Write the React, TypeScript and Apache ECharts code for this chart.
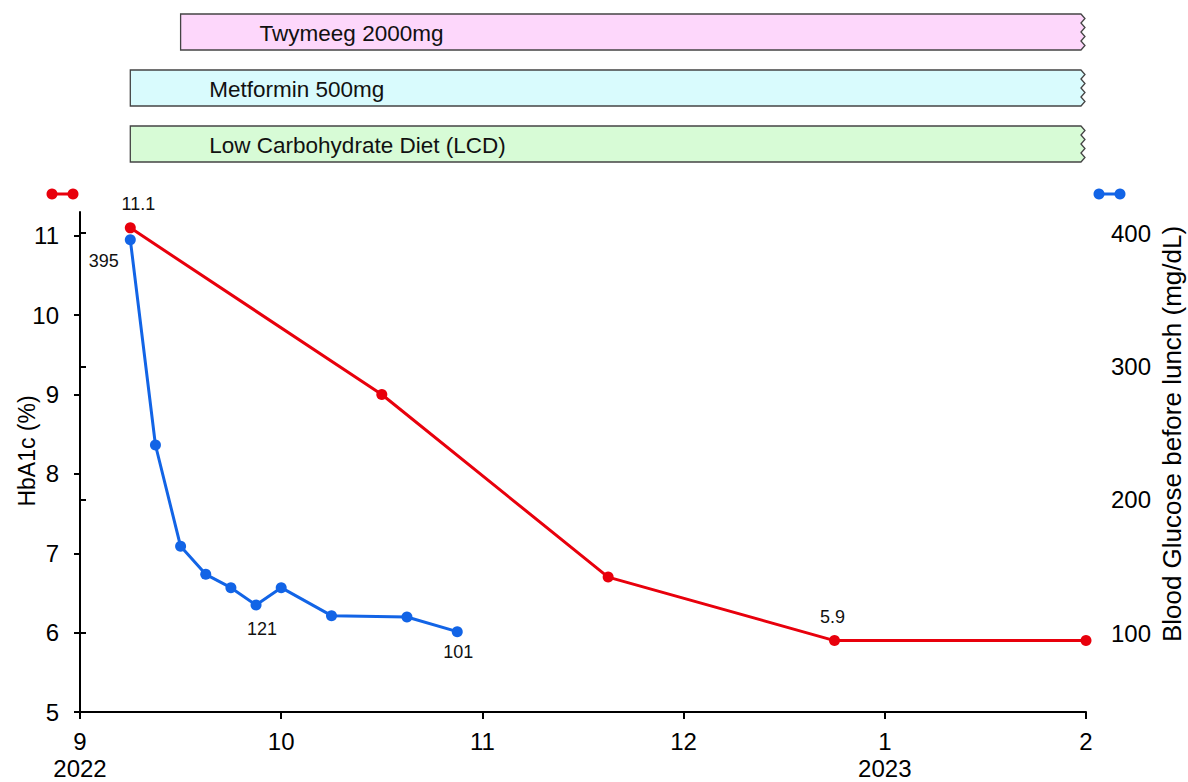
import React, { useEffect, useRef } from "react";
import * as echarts from "echarts";

// ---- data ----
const monthLabels = ["9", "10", "11", "12", "1", "2"];
const yearLabels = ["2022", "", "", "", "2023", ""];
const hba1cTicks = [5, 6, 7, 8, 9, 10, 11];

// x = months since Sept 1, 2022
const hba1cX = [0.25, 1.5, 2.625, 3.75, 5];
const hba1cY = [11.1, 9.0, 6.7, 5.9, 5.9];
const hba1cLabeled = [0, 3];

const glucoseX = [0.25, 0.375, 0.5, 0.625, 0.75, 0.875, 1.0, 1.25, 1.625, 1.875];
const glucoseY = [395, 241, 165, 144, 134, 121, 134, 113, 112, 101];
const glucoseLabeled = [0, 5, 9];

const treatmentNames = ["Twymeeg 2000mg", "Metformin 500mg", "Low Carbohydrate Diet (LCD)"];
const treatmentStart = [0.5, 0.25, 0.25];
const treatmentEnd = [4.975, 4.975, 4.975];
const treatmentColors = ["#fdd7fb", "#d9fbfd", "#d7fbd6"];

const FONT = '"Liberation Sans", Arial, sans-serif';
const RED = "#e8000c";
const BLUE = "#1264e6";

export default function App() {
  const ref = useRef<HTMLDivElement>(null);

  useEffect(() => {
    if (!ref.current) return;
    const chart = echarts.init(ref.current, null, { renderer: "svg" });

    const labelFor = (idx: number) => {
      const m = monthLabels[idx] ?? "";
      const y = yearLabels[idx] ?? "";
      return y ? m + "\n" + y : m;
    };

    const option: any = {
      animation: false,
      backgroundColor: "#ffffff",
      textStyle: { fontFamily: FONT },
      grid: [
        { left: 80, right: 102, top: 212, bottom: 69, containLabel: false },
        { left: 80, right: 102, top: 233, bottom: 149, containLabel: false },
      ],
      xAxis: [
        {
          type: "value",
          gridIndex: 0,
          min: 0,
          max: 5,
          interval: 1,
          splitLine: { show: false },
          axisLine: { show: true, lineStyle: { color: "#000", width: 2 } },
          axisTick: { show: true, length: 7, lineStyle: { color: "#000", width: 2 } },
          axisLabel: {
            color: "#000",
            fontSize: 24,
            fontFamily: FONT,
            margin: 16,
            lineHeight: 27,
            verticalAlign: "top",
            formatter: (v: number) => labelFor(Math.round(v)),
          },
        },
        {
          type: "value",
          gridIndex: 1,
          min: 0,
          max: 5,
          show: false,
        },
      ],
      yAxis: [
        {
          type: "value",
          gridIndex: 0,
          min: 5,
          max: 11.3,
          offset: 8,
          splitLine: { show: false },
          axisLine: { show: true, lineStyle: { color: "#000", width: 2 } },
          axisTick: {
            show: true,
            length: 6,
            lineStyle: { color: "#000", width: 2 },
            customValues: hba1cTicks,
          },
          axisLabel: {
            color: "#000",
            fontSize: 24,
            fontFamily: FONT,
            margin: 13,
            customValues: hba1cTicks,
          },
        },
        {
          type: "value",
          gridIndex: 1,
          position: "right",
          min: 100,
          max: 400,
          interval: 100,
          offset: 11,
          splitLine: { show: false },
          axisLine: { show: true, lineStyle: { color: "#000", width: 2 } },
          axisTick: { show: true, length: 6, lineStyle: { color: "#000", width: 2 } },
          axisLabel: { color: "#000", fontSize: 24, fontFamily: FONT, margin: 14 },
        },
      ],
      graphic: [
        {
          type: "text",
          x: 27,
          y: 451,
          rotation: Math.PI / 2,
          style: {
            text: "HbA1c (%)",
            fontSize: 23,
            fontFamily: FONT,
            fill: "#000",
            align: "center",
            verticalAlign: "middle",
          },
        },
        {
          type: "text",
          x: 1172,
          y: 434,
          rotation: Math.PI / 2,
          style: {
            text: "Blood Glucose before lunch (mg/dL)",
            fontSize: 26,
            fontFamily: FONT,
            fill: "#000",
            align: "center",
            verticalAlign: "middle",
          },
        },
        { type: "line", shape: { x1: 52, y1: 194, x2: 73, y2: 194 }, style: { stroke: RED, lineWidth: 3 } },
        { type: "circle", shape: { cx: 52, cy: 194, r: 5.5 }, style: { fill: RED } },
        { type: "circle", shape: { cx: 73, cy: 194, r: 5.5 }, style: { fill: RED } },
        { type: "line", shape: { x1: 1099, y1: 194, x2: 1120, y2: 194 }, style: { stroke: BLUE, lineWidth: 3 } },
        { type: "circle", shape: { cx: 1099, cy: 194, r: 5.5 }, style: { fill: BLUE } },
        { type: "circle", shape: { cx: 1120, cy: 194, r: 5.5 }, style: { fill: BLUE } },
      ],
      series: [
        {
          type: "custom",
          xAxisIndex: 0,
          yAxisIndex: 0,
          clip: false,
          silent: true,
          encode: { x: [0, 1] },
          data: treatmentNames.map((_, i) => [treatmentStart[i], treatmentEnd[i], i]),
          renderItem: (params: any, api: any) => {
            const i = params.dataIndex;
            const s = api.coord([api.value(0), 8])[0];
            const e = api.coord([api.value(1), 8])[0];
            const top = 14 + i * 56;
            const h = 36;
            const pts: number[][] = [[s, top], [e, top]];
            const n = 8;
            for (let k = 1; k < n; k++) {
              pts.push([e + (k % 2 === 1 ? 4 : 0), top + (k * h) / n]);
            }
            pts.push([e, top + h]);
            pts.push([s, top + h]);
            return {
              type: "group",
              children: [
                {
                  type: "polygon",
                  shape: { points: pts },
                  style: { fill: treatmentColors[i], stroke: "#444", lineWidth: 1.3 },
                },
                {
                  type: "text",
                  x: s + 79,
                  y: top + h / 2 + 1,
                  style: {
                    text: treatmentNames[i],
                    fontSize: 22.5,
                    fontFamily: FONT,
                    fill: "#111",
                    align: "left",
                    verticalAlign: "middle",
                  },
                },
              ],
            };
          },
          z: 1,
        },
        {
          type: "line",
          name: "HbA1c",
          xAxisIndex: 0,
          yAxisIndex: 0,
          symbol: "circle",
          symbolSize: 11,
          lineStyle: { color: RED, width: 3 },
          itemStyle: { color: RED },
          z: 3,
          data: hba1cX.map((x, i) => ({
            value: [x, hba1cY[i]],
            label: {
              show: hba1cLabeled.includes(i),
              position: "top",
              distance: 9,
              offset: i === 0 ? [8, 0] : [-2, 0],
              color: "#111",
              fontSize: 18,
              fontFamily: FONT,
              formatter: String(hba1cY[i].toFixed(1)),
            },
          })),
        },
        {
          type: "line",
          name: "Glucose",
          xAxisIndex: 1,
          yAxisIndex: 1,
          clip: false,
          symbol: "circle",
          symbolSize: 11,
          lineStyle: { color: BLUE, width: 3 },
          itemStyle: { color: BLUE },
          z: 4,
          data: glucoseX.map((x, i) => {
            const show = glucoseLabeled.includes(i);
            let label: any = { show: false };
            if (show) {
              if (i === 0) {
                label = { show: true, position: "left", distance: 6, offset: [0, 21] };
              } else if (i === 5) {
                label = { show: true, position: "bottom", distance: 9, offset: [6, 0] };
              } else {
                label = { show: true, position: "bottom", distance: 6, offset: [1, 0] };
              }
              label.color = "#111";
              label.fontSize = 18;
              label.fontFamily = FONT;
              label.formatter = String(glucoseY[i]);
            }
            return { value: [x, glucoseY[i]], label };
          }),
        },
      ],
    };

    chart.setOption(option);
    return () => chart.dispose();
  }, []);

  return (
    <div
      ref={ref}
      style={{ position: "fixed", left: 0, top: 0, width: 1188, height: 782, background: "#fff" }}
    />
  );
}
